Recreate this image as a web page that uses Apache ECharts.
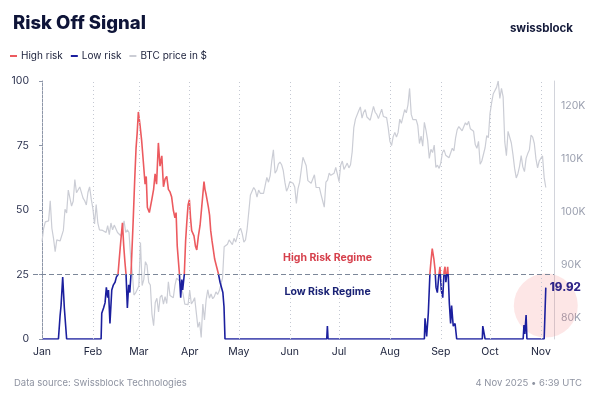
<!DOCTYPE html>
<html><head><meta charset="utf-8">
<script src="https://cdn.jsdelivr.net/npm/echarts@6/dist/echarts.min.js"></script>
<style>html,body{margin:0;padding:0;background:#fff}#c{width:600px;height:394px}</style>
</head><body><div id="c"></div>
<script>
// Day index 0 = 1 Jan 2025
const monthStarts = [0, 31, 59, 90, 120, 151, 181, 212, 243, 273, 304];
const monthLabels = ['Jan','Feb','Mar','Apr','May','Jun','Jul','Aug','Sep','Oct','Nov'];

// BTC daily price in $K
const btcJan = [94.4,96.9,98.1,98.2,98.3,102.1,96.9,95.0,92.5,94.7,94.6,94.5,94.5,96.5,100.5,99.8,104.1,104.4,101.1,102.0,106.1,103.6,103.7,104.7,104.7,102.6,102.1,101.3,103.7,104.7,102.4];
const btcFeb = [100.6,97.7,101.4,97.9,96.6,96.6,96.5,96.5,96.1,97.4,95.7,97.9,96.6,97.5,97.6,96.1,95.8,95.5,96.6,98.3,96.1,96.6,96.1,91.5,88.7,84.3,84.7,84.4];
const btcMar = [86.0,94.2,86.1,87.2,90.6,89.9,86.7,86.2,80.7,78.5,82.9,83.7,81.1,83.9,84.3,82.6,84.0,82.7,86.8,84.2,84.0,83.8,86.1,87.5,87.4,86.9,87.2,84.4,82.6,82.3,82.5];
const btcApr = [85.2,82.6,83.1,83.8,83.5,78.2,79.2,76.3,82.6,79.6,83.4,85.3,83.7,84.5,83.6,84.0,84.9,84.4,85.1,85.2,87.5,93.4,93.7,93.9,94.7,94.6,93.8,95.0,94.3,94.2];
const btcMay = [96.5,96.9,95.9,94.3,94.7,96.8,97.0,103.2,102.9,104.6,104.1,102.8,104.1,103.5,103.7,103.5,103.2,106.5,105.6,106.8,109.6,111.7,107.3,107.8,109.0,109.4,108.9,107.8,105.6,103.9,104.6];
const btcJun = [105.7,105.8,105.4,104.7,101.6,104.4,105.6,105.7,110.3,110.3,108.7,105.9,106.0,105.4,105.6,107.0,104.6,104.9,104.6,103.3,102.1,100.9,105.6,106.0,107.3,106.9,107.1,107.3,108.4,107.1];
const btcJul = [105.7,108.8,109.6,108.0,108.2,109.2,108.3,108.9,111.3,115.9,117.5,117.4,119.1,119.8,117.7,118.8,119.3,117.9,117.9,117.3,117.4,119.9,118.8,118.4,117.6,117.9,119.4,118.0,117.9,117.8,115.8];
const btcAug = [113.3,112.5,114.2,115.0,114.1,115.0,117.5,116.7,116.5,119.3,118.7,120.2,123.3,118.4,117.4,117.5,117.4,116.3,112.9,114.3,112.4,116.9,115.4,113.5,110.1,111.8,111.2,112.6,108.4,108.8,108.2];
const btcSep = [109.2,111.2,111.7,110.7,110.7,110.2,111.1,112.0,111.5,113.9,115.5,116.1,115.9,115.3,115.3,116.8,116.4,117.1,115.7,115.7,115.2,112.7,112.0,113.3,109.0,109.6,109.6,112.1,114.4,114.0];
const btcOct = [118.6,120.6,122.3,122.4,123.5,124.7,121.4,123.3,121.7,113.2,110.6,115.2,115.3,113.0,110.8,108.2,106.4,107.2,108.6,110.6,108.5,107.6,110.1,111.0,111.7,114.5,114.1,112.9,110.0,108.3,109.6];
const btcNov = [110.1,110.6,106.5,104.6];

// Risk Off Signal (day index, value)
const riskDay = [0,10,11,11.6,12.6,13.6,15,36,36.4,37.5,38.4,39.2,40,40.5,41.4,42.5,43.5,44.5,45.3,46.3,47.2,48,49,49.8,50.5,51.2,52,52.8,53.5,54.2,55.5,56.5,57.3,58,58.7,59.7,60.7,61.7,62.8,63.5,64.2,65.4,66.9,68,68.9,69.8,70.9,71.9,73,74,75,76,77,78,79,80,81,81.7,82.4,83.7,84.5,85.2,85.7,86.7,87.5,88.2,89,89.8,90.5,91.2,92.6,93.5,94.3,95.3,96.3,97.3,98,98.7,99.3,100,101.4,102.1,102.8,103.6,104.4,105.2,106,107.4,108.5,109.5,110.2,110.9,111.5,173.5,173.9,174.3,233,233.4,234.4,235.4,236.4,237,237.8,238.8,239.5,240.1,240.9,241.7,242.5,243.3,244.2,245,245.6,246.1,246.6,247.2,247.6,248.2,249,249.6,250.2,250.6,251.7,252.7,268.3,268.6,269.6,270,293.2,293.7,294.2,295,295.5,306,307];
const riskValue = [0,0,9,13,24,12,0,0,10,12,14,20,16,19,6,19,21,22,24,25,32,38,45,36,30,25,12,21,18,25,45,62,74,80,88,83,77,69,60,63,51,49,54,58,64,60,76,67,71,59,62,63,58,57,55,50,47,49,36,25.5,16,23,19,25,38,45,52,54,47,42,40,36,34.5,40,44,51,56,61,58,56,51,48,42,38,34.5,31,29,25.5,22,21.6,18,12.5,0,0,5,0,0,8,1,10,25.5,30,35,31,27,20,18,24,28,19,16,26,28,22,21.5,28,24,14,6,13,8,5,6,0,0,5,5,0,0,5.4,2,9.3,0,0,19.92];

const riskThreshold = 25;
const riskTicks = [0, 25, 50, 75, 100];
const btcTicks = [80000, 90000, 100000, 110000, 120000];
const regimeLabelDay = 174;

const RED = '#ec5a5f', BLUE = '#1b1f9e', GRAY = '#cbcdd5';
const FONT = 'Inter, "Noto Sans", sans-serif';

const btcPrice = [].concat(btcJan, btcFeb, btcMar, btcApr, btcMay, btcJun, btcJul, btcAug, btcSep, btcOct, btcNov);
const btcData = btcPrice.map((v, i) => [i, v * 1000]);
const riskData = riskDay.map((d, i) => [d, riskValue[i]]);
const last = riskData[riskData.length - 1];

const chart = echarts.init(document.getElementById('c'), null, {renderer: 'canvas'});
chart.setOption({
  animation: false,
  textStyle: {fontFamily: FONT},
  title: [
    {text: 'Risk Off Signal', left: 8, top: 9, textStyle: {fontSize: 18.5, fontWeight: 800, color: '#0e1438', fontFamily: FONT}},
    {text: 'swissblock', right: 22, top: 18, textStyle: {fontSize: 11.5, fontWeight: 700, color: '#141a3a', fontFamily: FONT}},
    {text: 'Data source: Swissblock Technologies', left: 9, top: 373, textStyle: {fontSize: 9.5, fontWeight: 400, color: '#8e93a1', fontFamily: FONT}},
    {text: '4 Nov 2025 \u2022 6:39 UTC', right: 13, top: 373, textStyle: {fontSize: 9.5, fontWeight: 400, color: '#8e93a1', fontFamily: FONT}}
  ],
  legend: {
    left: 5, top: 46, icon: 'rect', itemWidth: 7, itemHeight: 2, itemGap: 8,
    textStyle: {fontSize: 10, color: '#1a1f3a', fontFamily: FONT, padding: [0, 0, 0, -1]},
    data: ['High risk', 'Low risk', 'BTC price in $']
  },
  grid: {left: 33, right: 46, top: 81, bottom: 55},
  xAxis: {
    type: 'value', min: -5.5, max: 312,
    axisLine: {show: false}, axisTick: {show: false}, splitLine: {show: false},
    axisLabel: {
      customValues: monthStarts, margin: 7, fontSize: 10.5, color: '#20263f', fontFamily: FONT,
      formatter: v => monthLabels[monthStarts.indexOf(v)] || ''
    }
  },
  yAxis: [
    {
      type: 'value', min: 0, max: 100, interval: 25,
      axisLine: {show: true, lineStyle: {color: '#8d96a8', width: 1}},
      axisTick: {show: true, length: 3, lineStyle: {color: '#8d96a8'}},
      splitLine: {show: false},
      axisLabel: {margin: 4, fontSize: 10.5, color: '#2d3350', fontFamily: FONT, customValues: riskTicks}
    },
    {
      type: 'value', min: 76000, max: 124700, position: 'right',
      axisLine: {show: true, lineStyle: {color: '#d2d4db', width: 1}},
      axisTick: {show: false},
      splitLine: {show: false},
      axisLabel: {customValues: btcTicks, margin: 7, fontSize: 10.5, color: '#9ca1b0', fontFamily: FONT,
        formatter: v => (v / 1000) + 'K'}
    }
  ],
  visualMap: {
    type: 'piecewise', show: false, seriesIndex: 3, dimension: 1,
    pieces: [{gt: riskThreshold, lte: 1000, color: RED}, {gte: -1000, lte: riskThreshold, color: BLUE}],
    outOfRange: {color: BLUE}
  },
  series: [
    {name: 'High risk', type: 'line', data: [], color: RED},
    {name: 'Low risk', type: 'line', data: [], color: BLUE},
    {
      name: 'BTC price in $', type: 'line', yAxisIndex: 1, data: btcData, color: GRAY,
      symbol: 'none', lineStyle: {width: 1.2, color: GRAY}, z: 1, silent: true,
      markLine: {
        silent: true, symbol: 'none', label: {show: false},
        lineStyle: {type: [1, 3], color: '#c4c8d2', width: 1},
        data: monthStarts.map(d => ({xAxis: d}))
      }
    },
    {
      name: 'Risk Off Signal', type: 'line', data: riskData, symbol: 'none', z: 4,
      lineStyle: {width: 1.6},
      endLabel: {show: true, formatter: p => p.value[1].toFixed(2), color: '#2e2488', fontWeight: 800, fontSize: 11.5, distance: 4, fontFamily: FONT},
      markLine: {
        silent: true, symbol: 'none', label: {show: false},
        lineStyle: {type: [5, 3], color: '#7c8799', width: 1.2},
        data: [{yAxis: riskThreshold}]
      },
      markPoint: {
        silent: true, symbol: 'circle', symbolSize: 0,
        data: [
          {coord: [regimeLabelDay, riskThreshold], label: {show: true, formatter: 'High Risk Regime', offset: [0, -17], color: '#d6404c', fontWeight: 700, fontSize: 10.5, fontFamily: FONT}},
          {coord: [regimeLabelDay, riskThreshold], label: {show: true, formatter: 'Low Risk Regime', offset: [0, 17], color: '#1a2275', fontWeight: 700, fontSize: 10.5, fontFamily: FONT}}
        ]
      }
    },
    {
      name: 'highlight', type: 'scatter', data: [last], symbolSize: 64, symbolOffset: [0, 18],
      itemStyle: {color: 'rgba(244,120,120,0.23)'}, z: 0, silent: true
    }
  ]
});
</script></body></html>
